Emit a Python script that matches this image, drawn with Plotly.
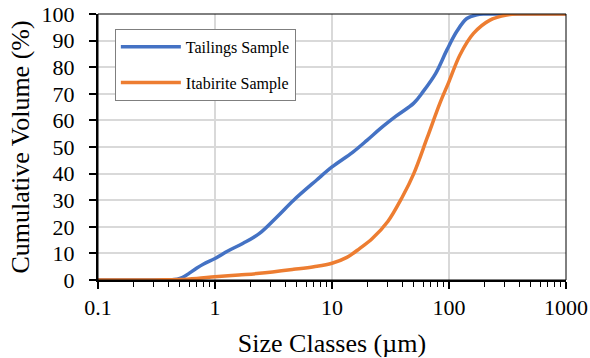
import plotly.graph_objects as go

size_tailings = [0.1, 0.2, 0.3, 0.4, 0.45, 0.5, 0.55, 0.6, 0.7, 0.8, 1, 1.3, 1.74, 2.4, 3.4, 4.7, 7.4, 10, 15, 20, 26, 35, 50, 60, 77, 96, 116, 142, 173, 200, 300, 500, 1000]
vol_tailings = [0, 0, 0, 0, 0.15, 0.6, 1.4, 2.5, 4.5, 6.0, 8.1, 11, 13.8, 17.5, 23.8, 30, 37.6, 42.5, 48, 52.6, 57, 61.5, 66.5, 70.8, 77.7, 86.5, 93.3, 98.3, 99.7, 100, 100, 100, 100]

size_itabirite = [0.1, 0.2, 0.3, 0.4, 0.5, 0.7, 1, 1.6, 2.4, 4.7, 7, 10, 13.4, 17.3, 22, 30, 40, 50, 65, 83.5, 100, 124, 162, 224, 311, 400, 600, 1000]
vol_itabirite = [0, 0, 0, 0.1, 0.2, 0.6, 1.2, 1.9, 2.5, 4.0, 5.0, 6.3, 8.5, 11.9, 15.5, 22, 31.3, 40, 53.4, 66.4, 74.6, 84.6, 92.7, 97.7, 99.6, 100, 100, 100]

x_ticks = [0.1, 1, 10, 100, 1000]
x_tick_labels = ["0.1", "1", "10", "100", "1000"]
x_minor_ticks = [m * d for d in [0.1, 1, 10, 100] for m in range(2, 10)]

font_family = "Liberation Serif"

fig = go.Figure()
fig.add_trace(go.Scatter(x=size_tailings, y=vol_tailings, mode="lines", name="Tailings Sample",
                         line=dict(color="#4472C4", width=3.5, shape="spline", smoothing=1.0),
                         legendgroup="a"))
fig.add_trace(go.Scatter(x=size_itabirite, y=vol_itabirite, mode="lines", name="Itabirite Sample",
                         line=dict(color="#ED7D31", width=3.5, shape="spline", smoothing=1.0),
                         legendgroup="b"))

fig.update_layout(
    width=590, height=358,
    margin=dict(l=98, r=24, t=14, b=78),
    paper_bgcolor="white", plot_bgcolor="white",
    font=dict(family=font_family, color="black", size=22),
    showlegend=True,
    legend=dict(x=0.036, y=0.944, xanchor="left", yanchor="top",
                bgcolor="white", bordercolor="#7f7f7f", borderwidth=1,
                font=dict(size=16, family=font_family, color="black"),
                tracegroupgap=12, itemwidth=60),
)
fig.update_xaxes(type="log", range=[-1, 3], tickvals=x_ticks, ticktext=x_tick_labels,
                 automargin=False, ticklabeloverflow="allow",
                 showgrid=True, gridcolor="#d9d9d9", gridwidth=1.5,
                 showline=True, linecolor="black", linewidth=2,
                 ticks="outside", ticklen=7, tickwidth=1.5, tickcolor="black",
                 ticklabelstandoff=0,
                 minor=dict(tickvals=x_minor_ticks, ticks="outside", ticklen=5, tickwidth=1,
                            tickcolor="black", showgrid=False),
                 title=dict(text="Size Classes (µm)", standoff=14),
                 zeroline=False)
fig.update_yaxes(range=[0, 100], dtick=10, automargin=False, ticklabeloverflow="allow",
                 showgrid=True, gridcolor="#d9d9d9", gridwidth=1.5,
                 showline=True, linecolor="black", linewidth=2,
                 ticks="outside", ticklen=7, tickwidth=1.5, tickcolor="black",
                 ticklabelstandoff=10,
                 title=dict(text="Cumulative Volume (%)", standoff=4),
                 zeroline=False)
fig.add_shape(type="rect", xref="paper", yref="paper", x0=0, y0=0, x1=1, y1=1,
              line=dict(color="black", width=1), fillcolor="rgba(0,0,0,0)", layer="above")

fig.write_html("out.html", config={"displayModeBar": False},
               post_script="document.body.style.margin='0';")
